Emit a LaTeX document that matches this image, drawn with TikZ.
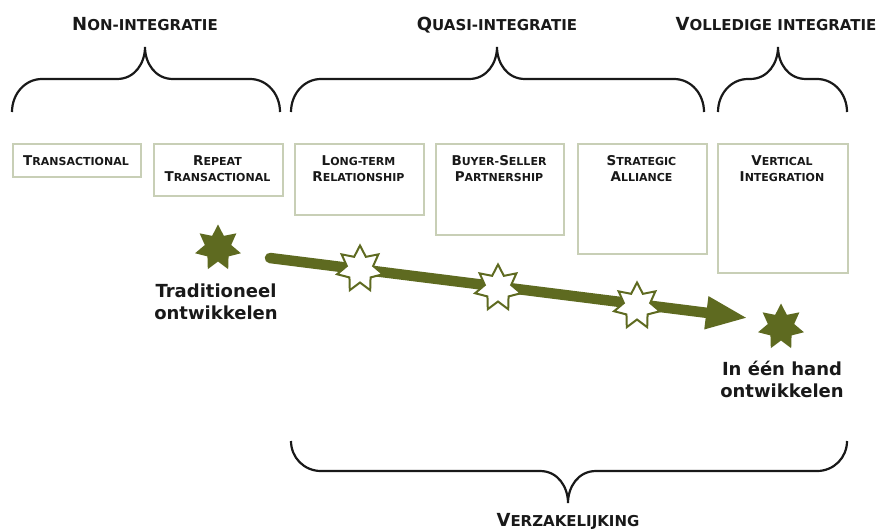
\documentclass[tikz,border=0pt]{standalone}
\usepackage{fontspec}
\setmainfont{DejaVu Sans}
\usetikzlibrary{shapes.geometric,arrows.meta}
\definecolor{olv}{RGB}{94,106,32}
\definecolor{boxc}{RGB}{200,207,182}
\definecolor{txt}{RGB}{25,25,25}
\newcommand\hsc[2]{{\fontsize{18}{20}\selectfont #1}{\fontsize{15}{20}\selectfont #2}}
\newcommand\bsc[2]{{\fontsize{13.5}{16}\selectfont #1}{\fontsize{11}{16}\selectfont #2}}
% L R T yb yf yt
\newcommand\mybrace[6]{%
  \draw[bracel] (#1,#4) .. controls (#1,{#4-0.55*(#4-#5)}) and ({#1+13},#5) .. ({#1+30},#5)
    -- ({#3-28},#5) .. controls ({#3-10},#5) and (#3,{#5+0.5*(#6-#5)}) .. (#3,#6)
    .. controls (#3,{#5+0.5*(#6-#5)}) and ({#3+10},#5) .. ({#3+28},#5)
    -- ({#2-30},#5) .. controls ({#2-13},#5) and (#2,{#4-0.55*(#4-#5)}) .. (#2,#4);}
% star path around a named coordinate: #1 style, #2 coordinate
\newcommand\mystar[2]{%
  \path[#1] ([shift={(#2)}]90:23.5pt)
    \foreach \i in {0,...,6}{ -- ([shift={(#2)}]{90+\i*360/7}:23.5pt) -- ([shift={(#2)}]{90+\i*360/7+180/7}:13.5pt)} -- cycle;}
\begin{document}
\begin{tikzpicture}[x=1pt,y=-1pt,
  bracel/.style={line width=2.2pt, draw=txt},
  box/.style={draw=boxc, line width=1.5pt, anchor=north west, inner sep=0pt},
  boxtxt/.style={anchor=north, inner sep=0pt, align=center, text=txt, font=\fontsize{11}{16}\selectfont\bfseries},
  hdr/.style={anchor=base, inner sep=0pt, text=txt, font=\fontsize{15}{20}\selectfont\bfseries},
  lbl/.style={anchor=north, inner sep=0pt, align=center, text=txt, font=\fontsize{18}{22}\selectfont\bfseries},
  fstar/.style={fill=olv},
  ostar/.style={draw=olv, fill=white, line width=2pt, line join=miter},
  arr/.style={draw=olv, line width=10.5pt, line cap=round, -{Triangle[length=42pt,width=30pt]}}]
\useasboundingbox (0,0) rectangle (885,531);
\fill[white] (0,0) rectangle (885,531);

% headers
\node[hdr] (h1) at (145,30) {\hsc{N}{ON-INTEGRATIE}};
\node[hdr] (h2) at (497,30) {\hsc{Q}{UASI-INTEGRATIE}};
\node[hdr] (h3) at (776,30) {\hsc{V}{OLLEDIGE INTEGRATIE}};

% braces
\mybrace{12}{280}{145}{112}{79}{47}
\mybrace{291}{704}{497}{112}{79}{47}
\mybrace{718}{847}{778}{112}{79}{47}
\mybrace{291}{847}{568}{441}{471}{503}
\node[hdr] (h4) at (568,526) {\hsc{V}{ERZAKELIJKING}};

% boxes
\node[box, minimum width=128pt, minimum height=33pt] (b1) at (12,143) {};
\node[box, minimum width=129pt, minimum height=52pt] (b2) at (153,143) {};
\node[box, minimum width=129pt, minimum height=71pt] (b3) at (294,143) {};
\node[box, minimum width=128pt, minimum height=91pt] (b4) at (435,143) {};
\node[box, minimum width=129pt, minimum height=110pt] (b5) at (577,143) {};
\node[box, minimum width=130pt, minimum height=129pt] (b6) at (717,143) {};

\node[boxtxt] (t1) at (76,155.5) {\bsc{T}{RANSACTIONAL}};
\node[boxtxt] (t2) at (217.5,155.5) {\bsc{R}{EPEAT}\\\bsc{T}{RANSACTIONAL}};
\node[boxtxt] (t3) at (358.5,155.5) {\bsc{L}{ONG-TERM}\\\bsc{R}{ELATIONSHIP}};
\node[boxtxt] (t4) at (499,155.5) {\bsc{B}{UYER-}\bsc{S}{ELLER}\\\bsc{P}{ARTNERSHIP}};
\node[boxtxt] (t5) at (641.5,155.5) {\bsc{S}{TRATEGIC}\\\bsc{A}{LLIANCE}};
\node[boxtxt] (t6) at (782,155.5) {\bsc{V}{ERTICAL}\\\bsc{I}{NTEGRATION}};

% arrow
\coordinate (as) at (270,258);
\coordinate (ae) at (748,318);
\draw[arr] (as) -- (ae);

% stars
\coordinate (s0) at (218,248);
\coordinate (s1) at (360,269);
\coordinate (s2) at (498,288);
\coordinate (s3) at (637,306);
\coordinate (s4) at (781,327);
\mystar{fstar}{s0}
\mystar{ostar}{s1}
\mystar{ostar}{s2}
\mystar{ostar}{s3}
\mystar{fstar}{s4}

% labels
\node[lbl] (l1) at (216,284) {Traditioneel\\ontwikkelen};
\node[lbl] (l2) at (782,361) {In één hand\\ontwikkelen};
\end{tikzpicture}
\end{document}
